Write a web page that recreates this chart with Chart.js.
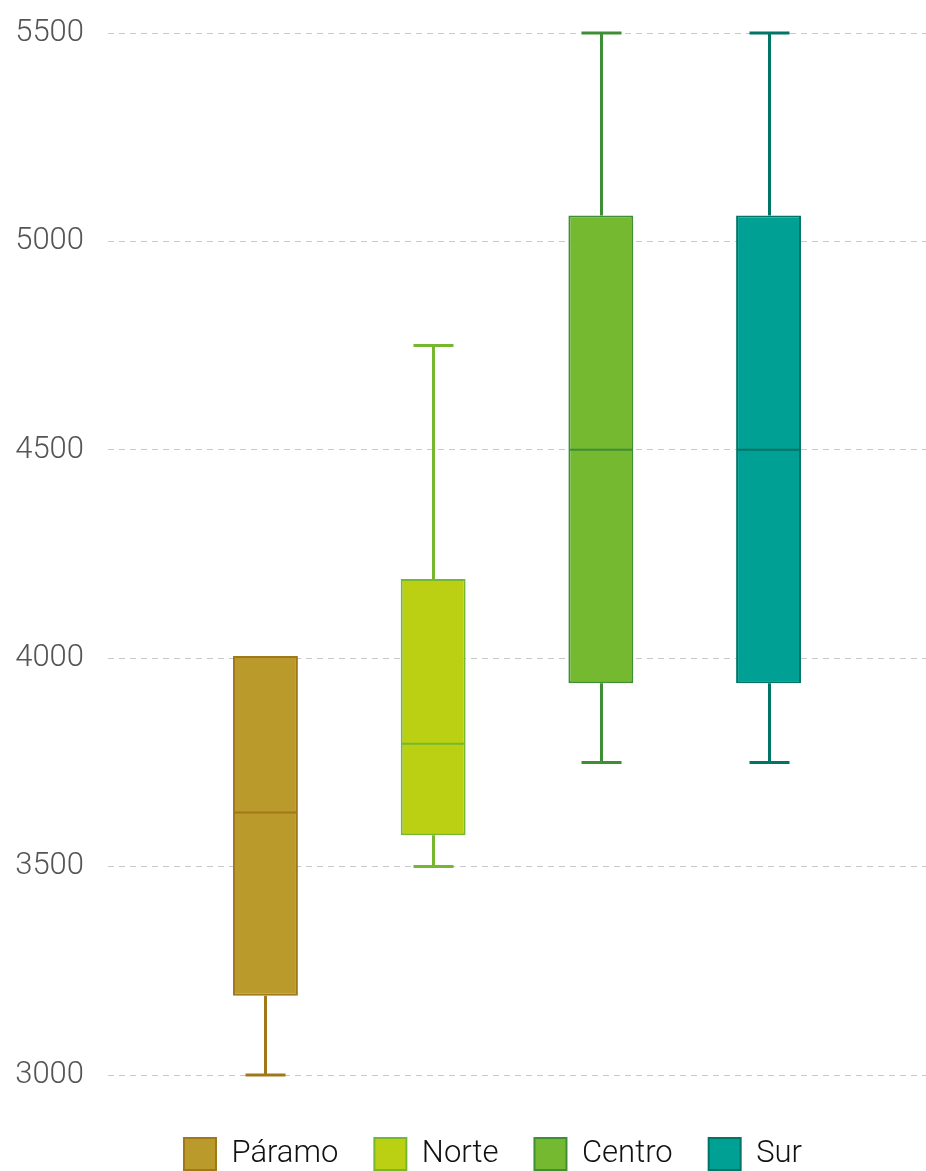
<!DOCTYPE html>
<html>
<head>
<meta charset="utf-8">
<script src="https://cdn.jsdelivr.net/npm/chart.js@4"></script>
<style>
  html, body { margin: 0; padding: 0; background: #fff; overflow: hidden; }
  #wrap { width: 926px; height: 1180px; }
</style>
</head>
<body>
<div id="wrap"><canvas id="boxChart"></canvas></div>
<script>
// box plot values per region
const regions = ["Páramo", "Norte", "Centro", "Sur"];
const mins    = [3000, 3500, 3750, 3750];
const q1s     = [3190, 3575, 3940, 3940];
const medians = [3630, 3795, 4500, 4500];
const q3s     = [4005, 4190, 5062, 5062];
const maxs    = [4005, 4750, 5500, 5500];

const yTicks = [3000, 3500, 4000, 4500, 5000, 5500];

const fills   = ["#bb9a2c", "#bbd012", "#75b931", "#00a095"];
const borders = ["#a07819", "#75b82f", "#3e8e36", "#007565"];

// whiskers + median, drawn with the chart's own scales
const boxExtras = {
    id: "boxExtras",
    afterLayout(chart) {
        // legend sits a little right of centre in the original
        chart.legend.left += 30;
        chart.legend.right += 30;
    },
    afterDatasetsDraw(chart) {
        const ctx = chart.ctx;
        const y = chart.scales.y;
        chart.data.datasets.forEach((ds, i) => {
            const bar = chart.getDatasetMeta(i).data[0];
            if (!bar) return;
            const x = Math.round(bar.x) + 0.5;
            const half = bar.width / 2;
            ctx.save();
            ctx.strokeStyle = borders[i];
            // median
            ctx.lineWidth = 2;
            ctx.beginPath();
            ctx.moveTo(x - half + 1, y.getPixelForValue(medians[i]));
            ctx.lineTo(x + half - 1, y.getPixelForValue(medians[i]));
            ctx.stroke();
            // whiskers
            ctx.lineWidth = 3;
            ctx.beginPath();
            ctx.moveTo(x, y.getPixelForValue(q3s[i]));
            ctx.lineTo(x, y.getPixelForValue(maxs[i]));
            ctx.moveTo(x, y.getPixelForValue(q1s[i]));
            ctx.lineTo(x, y.getPixelForValue(mins[i]));
            ctx.stroke();
            // caps
            ctx.beginPath();
            if (maxs[i] > q3s[i]) {
                ctx.moveTo(x - 20, y.getPixelForValue(maxs[i]));
                ctx.lineTo(x + 20, y.getPixelForValue(maxs[i]));
            }
            if (mins[i] < q1s[i]) {
                ctx.moveTo(x - 20, y.getPixelForValue(mins[i]));
                ctx.lineTo(x + 20, y.getPixelForValue(mins[i]));
            }
            ctx.stroke();
            ctx.restore();
        });
    }
};

const datasets = regions.map((name, i) => ({
    label: name,
    data: [[q1s[i], q3s[i]]],
    backgroundColor: fills[i],
    borderColor: borders[i],
    borderWidth: 2,
    borderSkipped: false,
    barPercentage: 0.387,
    categoryPercentage: 0.82
}));

new Chart(document.getElementById("boxChart"), {
    type: "bar",
    data: { labels: [""], datasets: datasets },
    plugins: [boxExtras],
    options: {
        responsive: true,
        maintainAspectRatio: false,
        animation: false,
        layout: { padding: { top: 33, left: 0, right: 0, bottom: 0 } },
        plugins: {
            tooltip: { enabled: false },
            legend: {
                position: "bottom",
                labels: {
                    boxWidth: 32,
                    boxHeight: 32,
                    padding: 36,
                    color: "#111",
                    font: { family: "Roboto", size: 31, weight: "300" }
                }
            }
        },
        scales: {
            x: {
                display: true,
                grid: { display: false, drawTicks: false },
                border: { display: false },
                ticks: { display: false },
                afterFit(axis) { axis.height = 27; }
            },
            y: {
                min: 3000,
                max: 5500,
                afterBuildTicks(axis) {
                    axis.ticks = yTicks.map(v => ({ value: v }));
                },
                afterFit(axis) {
                    axis.width = 108;
                    axis.paddingTop = 0;
                    axis.paddingBottom = 0;
                },
                grid: { color: "#c8c8c8", lineWidth: 1, drawTicks: false },
                border: { display: false, dash: [6, 5] },
                ticks: {
                    padding: 24,
                    color: "#555",
                    font: { family: "Roboto", size: 31, weight: "300", lineHeight: 1 },
                    callback: v => String(v)
                }
            }
        }
    }
});
</script>
</body>
</html>
